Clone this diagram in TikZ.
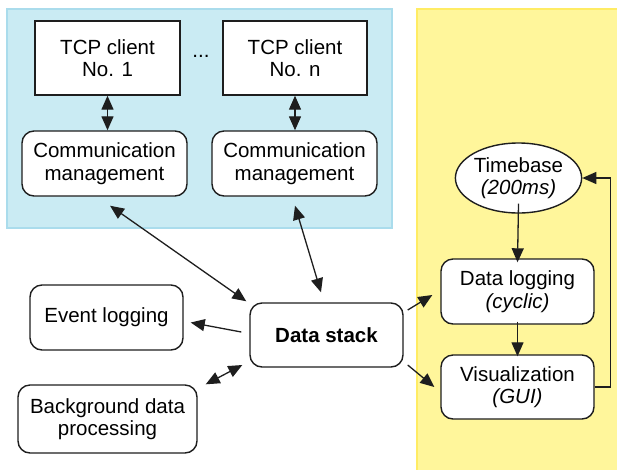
\documentclass[tikz,border=0pt]{standalone}
\usepackage{fontspec}
\setmainfont{Liberation Sans}
\usetikzlibrary{shapes.geometric,arrows.meta}
\definecolor{netblue}{RGB}{202,235,243}
\definecolor{netblueedge}{RGB}{170,220,236}
\definecolor{guiyellow}{RGB}{255,246,155}
\definecolor{guiyellowedge}{RGB}{255,236,100}
\definecolor{inkdark}{RGB}{30,30,30}
\tikzset{
  txt/.style={font=\fontsize{20.5}{22.5}\selectfont},
  base/.style={draw=inkdark, line width=1.4pt, fill=white, align=center,
    txt, inner sep=0pt},
  plainbox/.style={base, rectangle},
  roundbox/.style={base, rectangle, rounded corners=12pt},
  ovalbox/.style={base, ellipse},
  link/.style={draw=inkdark, line width=1.3pt, -{Triangle[length=14pt,width=12pt]}},
  duplex/.style={draw=inkdark, line width=1.3pt, {Triangle[length=14pt,width=12pt]}-{Triangle[length=14pt,width=12pt]}},
}
\begin{document}
\begin{tikzpicture}[x=1pt,y=-1pt]
\useasboundingbox (0,0) rectangle (617,469);
% zone backgrounds
\fill[netblue, draw=netblueedge, line width=1.2pt] (7,9) rectangle (392,228);
\fill[guiyellow, draw=guiyellowedge, line width=1.2pt] (417,9) rectangle (625,475);

% TCP clients and their communication managers
\node[plainbox, minimum width=145pt, minimum height=74pt] (tcp1) at (107.5,58) {TCP client\\No. 1};
\node[plainbox, minimum width=144pt, minimum height=74pt] (tcpn) at (295,58) {TCP client\\No. n};
\node[txt] (dots) at (201,56) {...};
\node[roundbox, minimum width=165pt, minimum height=65pt] (cm1) at (104.5,163.5) {Communication\\management};
\node[roundbox, minimum width=165pt, minimum height=65pt] (cmn) at (294.5,163.5) {Communication\\management};

% core
\node[roundbox, minimum width=153pt, minimum height=64pt, font=\fontsize{20.5}{22.5}\selectfont\bfseries] (stack) at (326.5,335) {Data stack};
\node[roundbox, minimum width=153pt, minimum height=65pt] (event) at (106.5,317.5) {Event logging};
\node[roundbox, minimum width=179pt, minimum height=68pt] (bg) at (107.5,419) {Background data\\processing};

% cyclic GUI side
\node[ovalbox, minimum width=123pt, minimum height=70pt] (time) at (518.5,178) {Timebase\\\textit{(200ms)}};
\node[roundbox, minimum width=153pt, minimum height=65pt] (dlog) at (517.5,291.5) {Data logging\\\textit{(cyclic)}};
\node[roundbox, minimum width=153pt, minimum height=64pt] (vis) at (517.5,387) {Visualization\\\textit{(GUI)}};

% connectors
\draw[duplex] (tcp1.south) -- (cm1.north -| tcp1.south);
\draw[duplex] (tcpn.south) -- (cmn.north -| tcpn.south);
\draw[duplex] ([shift={(5.5,9)}]cm1.south) -- ([shift={(-3,-1)}]stack.north west);
\draw[duplex] ([shift={(0.5,9)}]cmn.south) -- ([shift={(-5.5,-10)}]stack.north);
\draw[link] ([shift={(-8,-3)}]stack.west) -- ([shift={(7,5)}]event.east);
\draw[duplex] ([shift={(8,0)}]bg.north east) -- ([shift={(-7,30)}]stack.west);
\draw[link] ([shift={(4,-25)}]stack.east) -- ([shift={(-8,3.5)}]dlog.west);
\draw[link] ([shift={(4,30)}]stack.east) -- ([shift={(-6,0)}]vis.west);
\draw[link] ([yshift=10pt]time.south) -- ([yshift=-4pt]dlog.north);
\draw[link] ([yshift=3pt]dlog.south) -- ([yshift=-2pt]vis.north);
\draw[link] (vis.east) -- ++(16,0) |- (time.east);
\end{tikzpicture}
\end{document}
